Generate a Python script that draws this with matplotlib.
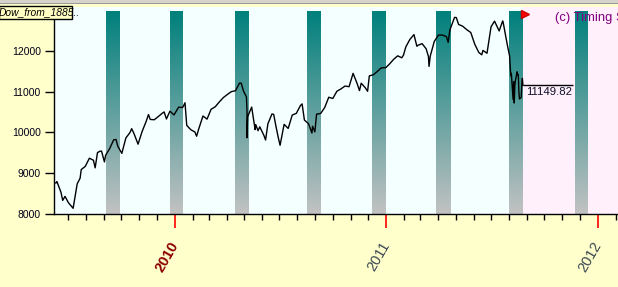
import matplotlib
matplotlib.use('Agg')
import matplotlib.pyplot as plt
import matplotlib.dates as mdates
import numpy as np
from matplotlib.patches import Rectangle

W, H, DPI = 618, 287, 100

# ---- data (Dow values) ----
dates = [
    '2009-06-08', '2009-06-11', '2009-06-12', '2009-06-19', '2009-06-22', '2009-06-26', '2009-07-02',
    '2009-07-08', '2009-07-10', '2009-07-17', '2009-07-22', '2009-07-24', '2009-07-31', '2009-08-07',
    '2009-08-14', '2009-08-17', '2009-08-21', '2009-08-25', '2009-08-28', '2009-09-02', '2009-09-04',
    '2009-09-11', '2009-09-18', '2009-09-22', '2009-09-25', '2009-10-02', '2009-10-09', '2009-10-16',
    '2009-10-19', '2009-10-23', '2009-10-30', '2009-11-06', '2009-11-13', '2009-11-17', '2009-11-20',
    '2009-11-27', '2009-12-04', '2009-12-11', '2009-12-14', '2009-12-18', '2009-12-24', '2009-12-31',
    '2010-01-08', '2010-01-15', '2010-01-19', '2010-01-22', '2010-01-29', '2010-02-05', '2010-02-08',
    '2010-02-12', '2010-02-19', '2010-02-26', '2010-03-05', '2010-03-12', '2010-03-19', '2010-03-26',
    '2010-04-02', '2010-04-09', '2010-04-16', '2010-04-23', '2010-04-26', '2010-04-30', '2010-05-05',
    '2010-05-06', '2010-05-06', '2010-05-07', '2010-05-14', '2010-05-20', '2010-05-21', '2010-05-25',
    '2010-05-28', '2010-06-04', '2010-06-07', '2010-06-11', '2010-06-18', '2010-06-21', '2010-06-25',
    '2010-06-29', '2010-07-02', '2010-07-09', '2010-07-16', '2010-07-23', '2010-07-30', '2010-08-06',
    '2010-08-09', '2010-08-13', '2010-08-20', '2010-08-26', '2010-08-27', '2010-08-31', '2010-09-03',
    '2010-09-10', '2010-09-17', '2010-09-24', '2010-10-01', '2010-10-08', '2010-10-15', '2010-10-22',
    '2010-10-29', '2010-11-05', '2010-11-12', '2010-11-16', '2010-11-19', '2010-11-26', '2010-11-30',
    '2010-12-03', '2010-12-10', '2010-12-17', '2010-12-23', '2010-12-29', '2010-12-31',
    '2011-01-07', '2011-01-14', '2011-01-21', '2011-01-28', '2011-01-31', '2011-02-04', '2011-02-11',
    '2011-02-18', '2011-02-23', '2011-02-25', '2011-03-04', '2011-03-11', '2011-03-15', '2011-03-16',
    '2011-03-18', '2011-03-25', '2011-04-01', '2011-04-08', '2011-04-15', '2011-04-18', '2011-04-21',
    '2011-04-29', '2011-05-02', '2011-05-06', '2011-05-13', '2011-05-20', '2011-05-27', '2011-06-03',
    '2011-06-10', '2011-06-15', '2011-06-17', '2011-06-24', '2011-07-01', '2011-07-07', '2011-07-15',
    '2011-07-21', '2011-07-22', '2011-07-29', '2011-08-02', '2011-08-04', '2011-08-05', '2011-08-08',
    '2011-08-09', '2011-08-10', '2011-08-11', '2011-08-12', '2011-08-15', '2011-08-16', '2011-08-17',
    '2011-08-18', '2011-08-19', '2011-08-22', '2011-08-23', '2011-08-24', '2011-08-25',
]
closes = [
    8764, 8770, 8799, 8540, 8340, 8438, 8281,
    8178, 8147, 8744, 8881, 9093, 9172, 9370,
    9321, 9135, 9506, 9540, 9544, 9280, 9441,
    9605, 9820, 9829, 9665, 9488, 9865, 9996,
    10092, 9972, 9713, 10023, 10270, 10437, 10318,
    10310, 10389, 10472, 10501, 10329, 10520, 10428,
    10618, 10610, 10725, 10173, 10067, 10012, 9908,
    10099, 10402, 10325, 10566, 10625, 10742, 10850,
    10927, 10997, 11019, 11204, 11205, 11009, 10868,
    10520, 9870, 10380, 10620, 10068, 10193, 10043,
    10137, 9932, 9816, 10211, 10451, 10442, 10144,
    9870, 9686, 10198, 10098, 10425, 10466, 10654,
    10698, 10303, 10214, 9985, 10151, 10014, 10448,
    10463, 10608, 10860, 10830, 11006, 11063, 11133,
    11118, 11444, 11193, 11023, 11204, 11092, 11006,
    11382, 11410, 11492, 11573, 11585, 11578,
    11675, 11787, 11872, 11824, 11892, 12092, 12273,
    12391, 12106, 12130, 12170, 12044, 11855, 11613,
    11859, 12221, 12377, 12380, 12342, 12202, 12506,
    12811, 12807, 12639, 12596, 12512, 12442, 12151,
    11952, 11897, 12004, 11935, 12583, 12719, 12480,
    12724, 12681, 12143, 11867, 11384, 11445, 10810,
    11239, 10720, 11143, 11269, 11482, 11406, 11410,
    10990, 10817, 10855, 11177, 11320, 11150,
]
last_value = 11149.82

band_starts = ['2009-09-05', '2009-12-24', '2010-04-15', '2010-08-18',
               '2010-12-08', '2011-03-28', '2011-08-01', '2011-11-23']
band_ends = ['2009-09-29', '2010-01-15', '2010-05-09', '2010-09-11',
             '2010-12-31', '2011-04-22', '2011-08-25', '2011-12-14']

year_labels = ['2010', '2011', '2012']
year_colors = ['#8b0000', '#3a4650', '#3a4650']
year_weights = ['bold', 'normal', 'normal']
y_ticks = [8000, 9000, 10000, 11000, 12000]

# ---- figure ----
plt.rcParams['font.family'] = ['Liberation Sans', 'DejaVu Sans']
fig = plt.figure(figsize=(W / DPI, H / DPI), dpi=DPI, facecolor='#ffffcc')

def px(x0, y0, x1, y1):
    return [x0 / W, 1 - y1 / H, (x1 - x0) / W, (y1 - y0) / H]

ax = fig.add_axes(px(54, 7, 618, 214.3))
ax.set_facecolor('#f4ffff')

d = np.array(dates, dtype='datetime64[D]')
dn = mdates.date2num(d)
xmin = mdates.date2num(np.datetime64('2009-06-07'))
xmax = mdates.date2num(np.datetime64('2012-02-05'))
ymin, ymax = 8000, 13065

ax.axvspan(dn[-1], xmax, color='#fff0fc', zorder=0, lw=0)

n = 256
t = np.linspace(0, 1, n)[:, None]
top = np.array([0, 128, 124]) / 255
bot = np.array([194, 194, 194]) / 255
grad = (top * (1 - t) + bot * t).reshape(n, 1, 3)
band_top = 12943
for s, e in zip(band_starts, band_ends):
    x0 = mdates.date2num(np.datetime64(s))
    x1 = mdates.date2num(np.datetime64(e))
    ax.imshow(grad, extent=[x0, x1, ymin, band_top], aspect='auto',
              origin='upper', zorder=1, interpolation='bilinear')

ax.plot(dn, closes, color='black', lw=1.0, zorder=3)

ax.hlines(last_value, dn[-1], dn[-1] + 86, color='black', lw=1.0, zorder=3)
ax.annotate(f'{last_value:.2f}', xy=(dn[-1], last_value), xytext=(2, -1),
            textcoords='offset points', ha='left', va='top', fontsize=8.2,
            color='#10102a', zorder=4)
ax.plot([dn[-1] + 3], [12894], marker='>', color='#ff0000', ms=5.5,
        zorder=5, clip_on=False, mec='#cc0000')

ax.set_xlim(xmin, xmax)
ax.set_ylim(ymin, ymax)

for sp in ['top', 'right']:
    ax.spines[sp].set_visible(False)
for sp in ['left', 'bottom']:
    ax.spines[sp].set_color('black')
    ax.spines[sp].set_linewidth(1.0)

ax.set_yticks(y_ticks)
ax.set_yticklabels([str(v) for v in y_ticks])
ax.tick_params(axis='y', length=6.5, width=1, pad=3, labelsize=7.5,
               colors='black', labelcolor='#000018')

year_pos = [mdates.date2num(np.datetime64(f'{y}-01-01')) for y in year_labels]
ax.set_xticks(year_pos)
ax.set_xticklabels([])
ax.xaxis.set_minor_locator(mdates.MonthLocator())
ax.tick_params(axis='x', which='major', length=10, width=1.2, color='#ff0000')
ax.tick_params(axis='x', which='minor', length=4.3, width=1, color='black')

for lab, xp, c, w in zip(year_labels, year_pos, year_colors, year_weights):
    ax.annotate(lab, xy=(xp, 0), xycoords=('data', 'axes fraction'),
                xytext=(0.5, -20.5), textcoords='offset points', rotation=60,
                rotation_mode='anchor', ha='right', va='center', fontsize=10.5,
                color=c, fontweight=w, annotation_clip=False)

fig.patches.append(Rectangle((0, 1 - 3 / H), 1, 3 / H, transform=fig.transFigure,
                             facecolor='#d6d3cc', edgecolor='none', zorder=10))
fig.patches.append(Rectangle((0, 1 - 3.5 / H), 1, 0.8 / H, transform=fig.transFigure,
                             facecolor='#9a9a9a', edgecolor='none', zorder=10))

box = px(-1, 6, 72, 18.5)
fig.patches.append(Rectangle((box[0], box[1]), box[2], box[3], transform=fig.transFigure,
                             facecolor='#ffffc4', edgecolor='black', lw=1.0, zorder=10))
fig.text(-1.5 / W, 1 - 12.5 / H, 'Dow_from_1885..', fontsize=7.4, style='italic',
         ha='left', va='center', color='black', zorder=11)

fig.text(555 / W, 1 - 18 / H, '(c) Timing S', fontsize=9.4, color='#800080',
         ha='left', va='center', zorder=11)

fig.savefig('out.png', dpi=DPI, facecolor=fig.get_facecolor())
